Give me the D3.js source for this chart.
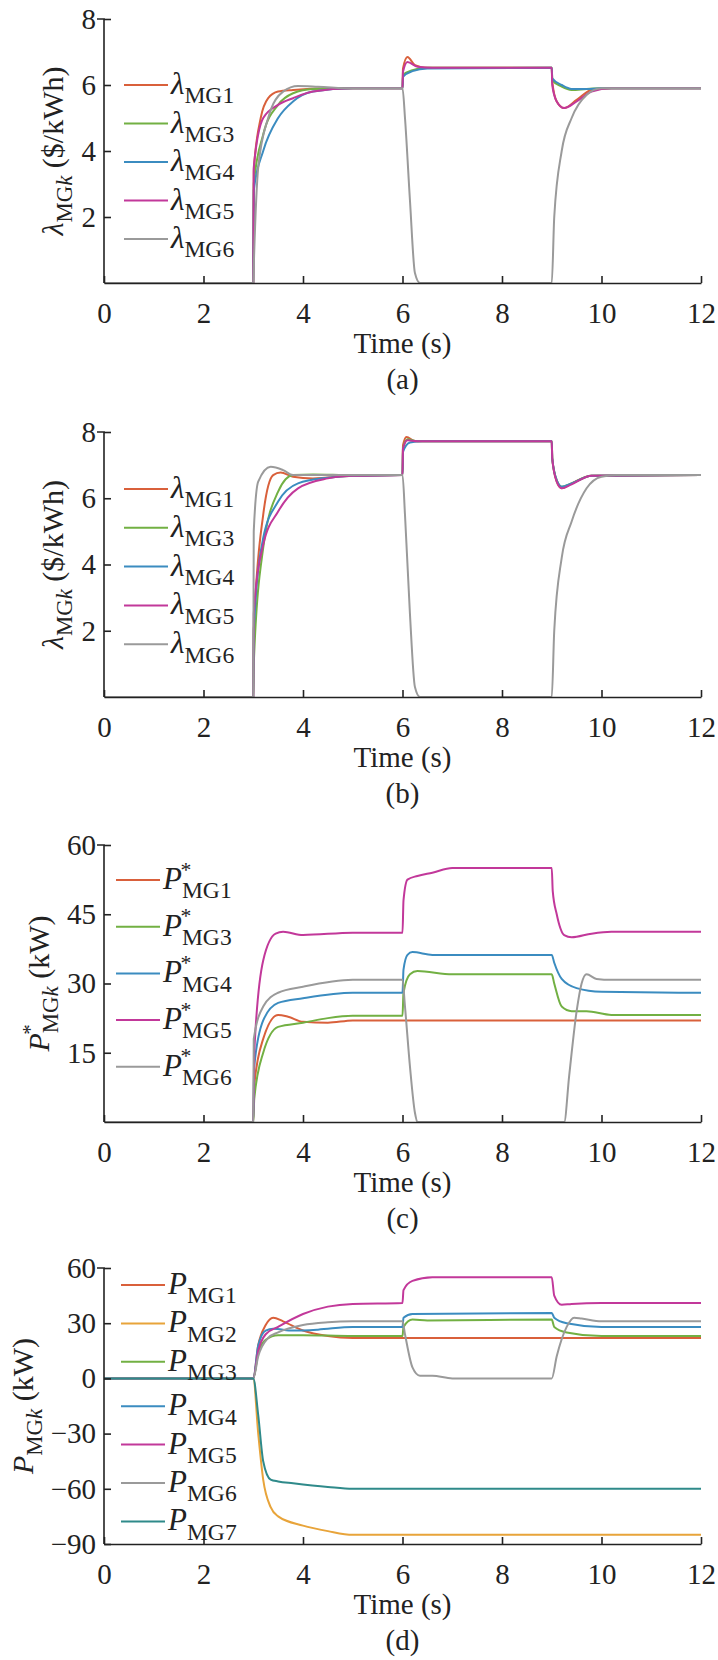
<!DOCTYPE html>
<html>
<head>
<meta charset="utf-8">
<script src="https://cdn.jsdelivr.net/npm/d3@7"></script>
<style>
  body { margin: 0; background: #fff; }
  svg text { font-family: "Liberation Serif", "Tinos", "Times New Roman", Times, "DejaVu Serif", serif !important; fill: #222; }
</style>
</head>
<body>
<svg id="fig" width="718" height="1660" font-family="Liberation Serif, Times New Roman, serif"></svg>
<script>
// ---- data ----
const xTicks = [0, 2, 4, 6, 8, 10, 12];

const colMG1 = "#D9603B", colMG2 = "#E8A43A", colMG3 = "#72B043", colMG4 = "#3B8CC0",
      colMG5 = "#C2389A", colMG6 = "#9A9A9A", colMG7 = "#2F8A8A";

// panel (a) lambda, $/kWh
const lamA_MG1 = [[0,0],[3,0],[3.01,3.4],[3.15,5.0],[3.3,5.6],[3.5,5.8],[3.8,5.85],[4.5,5.9],[6,5.9],[6.01,6.5],[6.1,6.85],[6.25,6.6],[6.5,6.52],[9,6.52],[9.01,6.1],[9.1,5.5],[9.25,5.3],[9.5,5.55],[9.8,5.85],[10.2,5.9],[12,5.9]];
const lamA_MG3 = [[0,0],[3,0],[3.01,3.0],[3.2,4.5],[3.5,5.4],[3.8,5.75],[4.2,5.88],[5,5.9],[6,5.9],[6.01,6.3],[6.2,6.45],[6.5,6.52],[9,6.52],[9.01,6.15],[9.2,5.95],[9.4,5.85],[9.7,5.88],[10,5.9],[12,5.9]];
const lamA_MG4 = [[0,0],[3,0],[3.01,2.8],[3.2,4.0],[3.5,5.0],[3.8,5.5],[4.2,5.8],[5,5.9],[6,5.9],[6.01,6.25],[6.2,6.42],[6.5,6.5],[9,6.52],[9.01,6.2],[9.2,6.0],[9.4,5.88],[9.7,5.88],[10,5.9],[12,5.9]];
const lamA_MG5 = [[0,0],[3,0],[3.01,3.5],[3.2,5.0],[3.5,5.4],[3.8,5.6],[4.2,5.8],[5,5.9],[6,5.9],[6.01,6.4],[6.1,6.7],[6.3,6.55],[6.6,6.52],[9,6.52],[9.01,6.0],[9.1,5.5],[9.25,5.3],[9.5,5.5],[9.8,5.8],[10.2,5.9],[12,5.9]];
const lamA_MG6 = [[0,0],[3,0],[3.01,0.5],[3.1,3.5],[3.3,5.0],[3.6,5.8],[3.9,5.97],[4.3,5.95],[5,5.9],[6,5.9],[6.05,5.0],[6.15,2.5],[6.25,0.3],[6.35,0],[9,0],[9.05,2.0],[9.2,4.0],[9.4,5.0],[9.7,5.7],[10,5.9],[12,5.9]];

// panel (b) lambda, $/kWh
const lamB_MG1 = [[0,0],[3,0],[3.01,2],[3.2,5.5],[3.4,6.7],[3.55,6.78],[3.8,6.65],[4.2,6.6],[5,6.68],[6,6.7],[6.01,7.6],[6.08,7.85],[6.25,7.72],[9,7.72],[9.01,7.2],[9.1,6.5],[9.2,6.3],[9.4,6.45],[9.8,6.68],[12,6.7]];
const lamB_MG3 = [[0,0],[3,0],[3.01,1],[3.2,4.5],[3.5,6.2],[3.8,6.7],[4.2,6.72],[5,6.7],[6,6.7],[6.01,7.5],[6.1,7.78],[6.3,7.72],[9,7.72],[9.01,7.2],[9.1,6.55],[9.2,6.35],[9.4,6.45],[9.8,6.68],[12,6.7]];
const lamB_MG4 = [[0,0],[3,0],[3.01,2],[3.2,4.8],[3.5,5.9],[3.9,6.45],[4.5,6.62],[5,6.68],[6,6.7],[6.01,7.4],[6.15,7.68],[6.4,7.72],[9,7.72],[9.01,7.2],[9.1,6.55],[9.2,6.35],[9.4,6.45],[9.8,6.68],[12,6.7]];
const lamB_MG5 = [[0,0],[3,0],[3.01,2.5],[3.2,4.6],[3.5,5.6],[3.9,6.3],[4.5,6.6],[5,6.68],[6,6.7],[6.01,7.5],[6.1,7.75],[6.3,7.72],[9,7.72],[9.01,7.2],[9.1,6.5],[9.2,6.3],[9.4,6.42],[9.8,6.68],[12,6.7]];
const lamB_MG6 = [[0,0],[3,0],[3.01,5.0],[3.1,6.5],[3.35,6.95],[3.6,6.85],[3.8,6.7],[5,6.7],[6,6.7],[6.05,5.5],[6.15,2.5],[6.25,0.3],[6.35,0],[9,0],[9.05,2],[9.2,4.2],[9.4,5.3],[9.7,6.3],[10,6.65],[10.3,6.7],[12,6.7]];

// panel (c) P*, kW
const pRefMG1 = [[0,0],[3,0],[3.02,8],[3.2,18],[3.5,23.2],[3.7,22.8],[4,21.7],[4.5,21.5],[5,22],[12,22]];
const pRefMG3 = [[0,0],[3,0],[3.02,5],[3.2,15],[3.5,20.6],[4,21.5],[4.5,22.5],[5,23],[6,23],[6.02,28],[6.15,32],[6.3,32.7],[7,32],[9,32],[9.05,30],[9.2,25],[9.4,24],[9.7,24],[10.2,23.2],[12,23.2]];
const pRefMG4 = [[0,0],[3,0],[3.02,12],[3.2,22],[3.5,25.8],[4,26.8],[5,28],[6,28],[6.02,33],[6.1,36.2],[6.2,36.8],[6.6,36.2],[9,36.2],[9.05,34.5],[9.2,31],[9.5,29],[10,28.2],[12,28]];
const pRefMG5 = [[0,0],[3,0],[3.02,15],[3.2,35],[3.45,40.8],[3.6,41.2],[4,40.5],[5,41],[6,41],[6.02,48],[6.1,52.5],[6.3,53.3],[6.6,54],[7,55],[9,55],[9.02,50],[9.1,45],[9.25,40.5],[9.4,40],[9.8,40.8],[10.2,41.2],[12,41.2]];
const pRefMG6 = [[0,0],[3,0],[3.01,18],[3.2,25],[3.5,28],[4,29.3],[5,30.8],[6,30.8],[6.05,25],[6.15,12],[6.25,2],[6.3,0],[9.25,0],[9.35,10],[9.5,24],[9.6,30],[9.7,32],[9.9,31],[10.2,30.8],[12,30.8]];

// panel (d) P, kW
const pMG1 = [[0,0],[3,0],[3.1,18],[3.25,29],[3.4,33],[3.6,31],[4,26],[4.5,23],[5,22],[12,22]];
const pMG2 = [[0,0],[3,0],[3.1,-30],[3.2,-55],[3.35,-70],[3.5,-75],[4,-80],[4.5,-83],[5,-85],[12,-85]];
const pMG3 = [[0,0],[3,0],[3.1,14],[3.25,21],[3.5,23.5],[4,23.5],[5,23],[6,23],[6.02,28],[6.2,32],[6.5,31.5],[9,32],[9.05,28],[9.3,25],[10,23],[12,23]];
const pMG4 = [[0,0],[3,0],[3.1,18],[3.25,26],[3.4,27],[3.8,26],[4.3,26.5],[5,28],[6,28],[6.02,33],[6.2,35],[9,35.5],[9.05,33],[9.3,30],[10,28],[12,28]];
const pMG5 = [[0,0],[3,0],[3.1,15],[3.25,24],[3.5,28],[4,35],[4.5,39],[5,40.5],[6,41],[6.02,48],[6.2,53],[6.6,55],[9,55],[9.05,45],[9.2,40],[9.4,40.5],[10,41],[12,41]];
const pMG6 = [[0,0],[3,0],[3.1,12],[3.3,22],[3.5,25],[4,29],[4.5,30.5],[5,31],[6,31],[6.05,24],[6.2,6],[6.35,1.5],[6.6,1.5],[7,0],[9,0],[9.1,12],[9.3,28],[9.45,33],[9.6,32.5],[10,31],[12,31]];
const pMG7 = [[0,0],[3,0],[3.1,-20],[3.2,-45],[3.35,-55],[3.5,-56],[3.8,-57],[4.5,-59],[5,-60],[12,-60]];

const panels = [
  { tag: "(a)", top: 19, h: 264, dom: [0, 8], ticks: [2, 4, 6, 8], sym: "λ", star: false, unit: " ($/kWh)", ylx: 63,
    legY: 85, legStep: 38.5, legX: 124,
    series: [["MG1", colMG1, lamA_MG1], ["MG3", colMG3, lamA_MG3], ["MG4", colMG4, lamA_MG4], ["MG5", colMG5, lamA_MG5], ["MG6", colMG6, lamA_MG6]] },
  { tag: "(b)", top: 432, h: 265, dom: [0, 8], ticks: [2, 4, 6, 8], sym: "λ", star: false, unit: " ($/kWh)", ylx: 63,
    legY: 489, legStep: 38.8, legX: 124,
    series: [["MG1", colMG1, lamB_MG1], ["MG3", colMG3, lamB_MG3], ["MG4", colMG4, lamB_MG4], ["MG5", colMG5, lamB_MG5], ["MG6", colMG6, lamB_MG6]] },
  { tag: "(c)", top: 845, h: 277, dom: [0, 60], ticks: [15, 30, 45, 60], sym: "P", star: true, unit: " (kW)", ylx: 49,
    legY: 880, legStep: 46.7, legX: 116,
    series: [["MG1", colMG1, pRefMG1], ["MG3", colMG3, pRefMG3], ["MG4", colMG4, pRefMG4], ["MG5", colMG5, pRefMG5], ["MG6", colMG6, pRefMG6]] },
  { tag: "(d)", top: 1268, h: 276, dom: [-90, 60], ticks: [-90, -60, -30, 0, 30, 60], sym: "P", star: false, unit: " (kW)", ylx: 33,
    legY: 1285, legStep: 38.4, legX: 121,
    series: [["MG1", colMG1, pMG1], ["MG2", colMG2, pMG2], ["MG3", colMG3, pMG3], ["MG4", colMG4, pMG4], ["MG5", colMG5, pMG5], ["MG6", colMG6, pMG6], ["MG7", colMG7, pMG7]] }
];

const SERIF = "Liberation Serif, Tinos, Times New Roman, DejaVu Serif, serif";
const svg = d3.select("#fig");
const x = d3.scaleLinear().domain([0, 12]).range([104, 701]);
const tickFont = 29, legFont = 31;

// italic symbol + upright subscript (+ optional star above)
function richText(g, px, py, sym, sub, star, size, subItalic, tail, anchorMid) {
  const t = g.append("text").attr("x", px).attr("y", py).attr("font-family", SERIF).style("font-size", size + "px");
  const s1 = t.append("tspan").style("font-style", "italic").text(sym);
  const subSpan = t.append("tspan").attr("dy", size * 0.3).style("font-size", (size * 0.76) + "px").text(sub);
  if (subItalic) subSpan.append("tspan").style("font-style", "italic").text(subItalic);
  if (tail) t.append("tspan").attr("dy", -size * 0.3).text(tail);
  if (anchorMid) {
    const len = t.node().getComputedTextLength();
    t.attr("x", px - len / 2);
    px = px - len / 2;
  }
  if (star) {
    const w = s1.node().getComputedTextLength();
    g.append("text").attr("x", px + w - size * 0.05).attr("y", py - size * 0.4).attr("font-family", SERIF)
      .style("font-size", (size * 0.7) + "px").text("*");
  }
  return t;
}

panels.forEach(p => {
  const y = d3.scaleLinear().domain(p.dom).range([p.top + p.h, p.top]);
  const g = svg.append("g");
  const line = d3.line().x(d => x(d[0])).y(d => y(d[1])).curve(d3.curveMonotoneX);

  p.series.forEach(s => {
    g.append("path").datum(s[2]).attr("d", line)
      .attr("fill", "none").attr("stroke", s[1]).attr("stroke-width", 2);
  });

  // axes (inward ticks, MATLAB style)
  const xb = g.append("g").attr("transform", `translate(0,${p.top + p.h})`)
    .call(d3.axisBottom(x).tickValues(xTicks).tickSizeInner(-7).tickSizeOuter(0).tickPadding(14));
  const yl = g.append("g").attr("transform", `translate(${x(0)},0)`)
    .call(d3.axisLeft(y).tickValues(p.ticks).tickSizeInner(-7).tickSizeOuter(0).tickPadding(8));
  [xb, yl].forEach(a => {
    a.attr("font-family", SERIF);
    a.select(".domain").attr("stroke", "#222").attr("stroke-width", 1.6);
    a.selectAll(".tick line").attr("stroke", "#222").attr("stroke-width", 1.6);
    a.selectAll(".tick text").style("font-size", tickFont + "px").attr("fill", "#222");
  });
  yl.select(".domain").attr("d", `M0,${p.top + p.h}V${p.top}h-7`);
  xb.selectAll(".tick text").attr("dy", "0.9em");

  // x title + panel tag
  g.append("text").attr("x", x(6)).attr("y", p.top + p.h + 70).attr("text-anchor", "middle")
    .attr("font-family", SERIF).style("font-size", "29px").text("Time (s)");
  g.append("text").attr("x", x(6)).attr("y", p.top + p.h + 106).attr("text-anchor", "middle")
    .attr("font-family", SERIF).style("font-size", "29px").text(p.tag);

  // y title
  const yt = g.append("g").attr("transform", `translate(${p.ylx},${p.top + p.h / 2}) rotate(-90)`);
  richText(yt, 0, 0, p.sym, "MG", p.star, 30, "k", p.unit, true);

  // legend
  p.series.forEach((s, i) => {
    const ly = p.legY + i * p.legStep + (p.tag === "(d)" && i > 2 ? 6 : 0);
    g.append("line").attr("x1", p.legX).attr("x2", p.legX + 44).attr("y1", ly).attr("y2", ly)
      .attr("stroke", s[1]).attr("stroke-width", 2);
    richText(g, p.legX + 47, ly + 9, p.sym, s[0], p.star, legFont, null, null, false);
  });
});
</script>
</body>
</html>
